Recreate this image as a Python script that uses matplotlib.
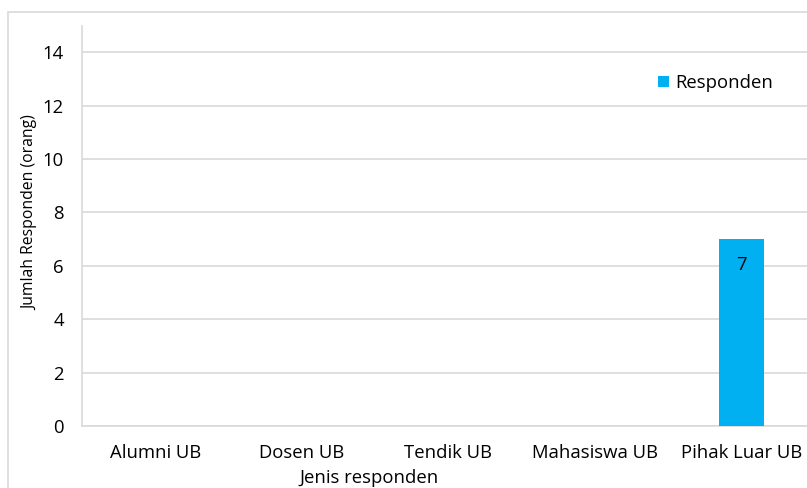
import matplotlib.pyplot as plt
import matplotlib.patches as mpatches

plt.rcParams['font.family'] = ['Open Sans', 'DejaVu Sans']

# data
kategori = ["Alumni UB", "Dosen UB", "Tendik UB", "Mahasiswa UB", "Pihak Luar UB"]
jumlah = [0, 0, 0, 0, 7]
y_ticks = [0, 2, 4, 6, 8, 10, 12, 14]
warna = '#00b0f0'
fs = 13.3

fig = plt.figure(figsize=(8.07, 4.88), dpi=100)

# chart border (cropped on the right and bottom, as in the source)
fig.patches.append(mpatches.Rectangle((8 / 807, -0.1), 1.2, 1 - 12 / 488 + 0.1,
                                      transform=fig.transFigure, fill=False,
                                      edgecolor='#d9d9d9', lw=1.2, zorder=0))

ax = fig.add_axes([82 / 807, 1 - 426 / 488, 733 / 807, 400.5 / 488])
x = list(range(len(kategori)))
bars = ax.bar(x, jumlah, width=0.31, color=warna, zorder=3, label="Responden")

for xi, v in zip(x, jumlah):
    if v > 0:
        ax.annotate(str(v), (xi, v), xytext=(0, -18.5), textcoords='offset points',
                    ha='center', va='center', fontsize=fs, color='black', zorder=4)

ax.set_ylim(0, 15)
ax.set_xlim(-0.5, len(kategori) - 0.5)
ax.set_yticks(y_ticks)
ax.set_xticks(x)
ax.set_xticklabels(kategori)
ax.tick_params(axis='both', length=0, labelsize=fs, colors='black')
ax.tick_params(axis='y', pad=13)
ax.tick_params(axis='x', pad=13)
ax.grid(axis='y', color='#d9d9d9', lw=1.2, zorder=0)
ax.set_axisbelow(True)
for s in ['top', 'right']:
    ax.spines[s].set_visible(False)
for s in ['left', 'bottom']:
    ax.spines[s].set_color('#d9d9d9')
    ax.spines[s].set_linewidth(1.2)

fig.text(30 / 807, 1 - 213 / 488, "Jumlah Responden (orang)", rotation=90,
         ha='center', va='center', fontsize=11.3)
fig.text(369 / 807, 1 - 478 / 488, "Jenis responden", ha='center', va='center',
         fontsize=fs)

ax.legend(loc='center left', bbox_to_anchor=(658 / 807, 1 - 83 / 488),
          bbox_transform=fig.transFigure, frameon=False, fontsize=fs,
          handlelength=0.6, handleheight=0.6, handletextpad=0.32, borderpad=0,
          borderaxespad=0)

fig.savefig("out.png", dpi=100)
